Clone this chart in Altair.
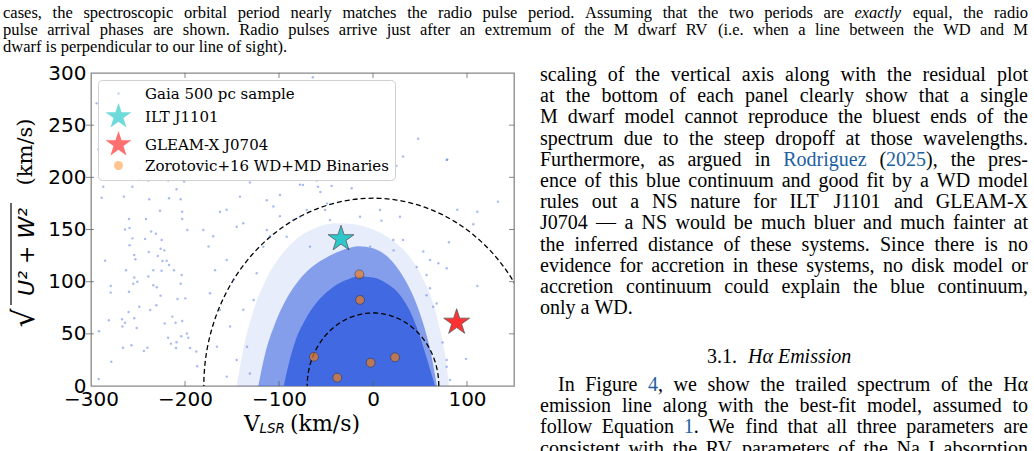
import altair as alt
import pandas as pd

# ---------------- data ----------------
series_names = ["Gaia 500 pc sample", "ILT J1101", "GLEAM-X J0704", "Zorotovic+16 WD+MD Binaries"]

# sparse Gaia stars (V_LSR, sqrt(U^2+W^2))
gaia_x = [-248.6, -239, -217.8, -201, -256, -209, -288.6, -265, -238, -217, -204.6, -226.6, -203,
          -259.6, -241.5, -203, -263.8, -259, -236, -231, -197.5, -256, -242.5, -224.8, -259, -225.9,
          -222, -238.6, -285, -254, -252.8, -229, -224, -219.5, -217, -262.8, -233.7, -225, -211.7,
          -254, -239, -203.5, -255, -250.7, -233.7, -230, -279, -279, -259.6, -226, -204.6, -208,
          -199.7, -248.6, -237, -230.5, -260, -254, -281, -267, -266.6, -263.8, -251.4, -221.6,
          -213.5, -210, -203, -291.5, -218, -215, -209, -204, -198, -196.5, -266, -257, -240, -243.7,
          -209.6, -194.7, -188, -278.4, -187, -291.8,
          -294, -292, -282.6, -287, -256.7, -248,
          -131, -99, -60, -58.5, -77.7, -155.7, -162.8, -180.5, -145, -138, -170, -175, -155.6, -168,
          -173.4, -148.6, -162.8, -152, -166, -145, -155.6, -131, -134, -138, -127, -123.7, -116.7,
          -109.6, -99, -84.8, -70.5, -49, -45.7, -113, -141.5,
          -74.5, -44, -22.7, -56, -106, -77.7, -51, -13.8, 7.4, 28.7, -113, -91.8, -67, -3, 21.6, -64,
          133, 89.7, 111, 9, 106.7, 32, 80.8, 22, 53.5, 60.6, 46.5, 78.4, 69.5, 57, 60.6, 111, 57,
          67.8, 64, 74, 78.4, 99, 78.4, 82, 78.4, 25, 48, 79, 32]
gaia_y = [198, 197, 197, 196, 191, 188.5, 180.5, 181.5, 179, 180, 179, 168, 167,
          160, 160, 160, 150, 151.5, 148, 146, 149.5, 141.5, 141, 140, 135, 131.6,
          130, 128.5, 120, 125.6, 121.5, 124.6, 119.8, 120, 116, 111, 111, 110.5, 111,
          104, 105, 106.4, 98, 100, 96.5, 94.6, 95.8, 89.5, 90.4, 86.6, 98, 83.4,
          84, 76, 72.9, 77.4, 71, 65, 63, 64, 57, 60.7, 55.6, 60,
          66.5, 60.7, 62.3, 52.4, 46.3, 40.6, 41.9, 47.6, 50.4, 46.3, 36.7, 39, 36.7, 33.6,
          36.4, 36.4, 33, 23.3, 19, 6.7,
          271, 227, 236.5, 191, 199.7, 208.6,
          195, 183, 197, 191, 193, 169, 167, 149.6, 152.7, 156, 143.5, 133.7, 120.8, 111,
          88.9, 101.6, 72.9, 57, 37.7, 25, 9, 12, 37.7, 73, 82.5, 108, 133.5,
          143.5, 162.7, 159, 168.7, 175, 159, 178, 181.5,
          192.7, 191.8, 189.5, 186, 172, 162.3, 168.7, 162.3, 168.7, 162.3, 149.6, 143, 133.6, 133.6, 140, 296,
          176.7, 169, 167, 158.5, 155, 140, 137.7, 130, 129, 120.8, 114, 112.8, 117.6, 106.4, 93.6, 95.8, 87,
          79, 76, 41.6, 25, 26, 18.5, 5.8, 216.7, 211, 237, 217, 220]

# dense part of the Gaia cloud: upper envelopes of three density levels
halo_x = [-145, -138, -128, -115, -98, -80, -60, -40, -20, 0, 20, 38, 52, 63, 71, 77, 81]
halo_y = [0, 35, 70, 100, 125, 142, 152, 156, 155, 150, 140, 125, 105, 82, 55, 28, 0]
fringe_x = [-122, -115, -105, -93, -80, -65, -48, -30, -15, 0, 14, 26, 37, 47, 55, 62, 68]
fringe_y = [0, 30, 58, 82, 100, 114, 124, 131, 134, 132, 125, 113, 97, 77, 55, 30, 0]
core_x = [-95, -90, -83, -73, -60, -45, -30, -15, 0, 15, 28, 38, 47, 55, 61, 66]
core_y = [0, 20, 42, 62, 80, 93, 101, 105, 104, 98, 88, 74, 55, 33, 15, 0]

ilt_x, ilt_y = [-34], [141]
gleam_x, gleam_y = [89], [61]
zoro_x = [-14.5, -13.8, -62.8, -38, -2.5, 23.4]
zoro_y = [107, 82.5, 28, 8, 22.3, 27.5]

circle_radii = [70, 180]
x_ticks = [-300, -200, -100, 0, 100]
y_ticks = [0, 50, 100, 150, 200, 250, 300]

# page text ({..} = link colour, _.._ = italic)
caption_lines = [
    "cases, the spectroscopic orbital period nearly matches the radio pulse period. Assuming that the two periods are _exactly_ equal, the radio",
    "pulse arrival phases are shown. Radio pulses arrive just after an extremum of the M dwarf RV (i.e. when a line between the WD and M",
    "dwarf is perpendicular to our line of sight).",
]
body_lines = [
    "scaling of the vertical axis along with the residual plot",
    "at the bottom of each panel clearly show that a single",
    "M dwarf model cannot reproduce the bluest ends of the",
    "spectrum due to the steep dropoff at those wavelengths.",
    "Furthermore, as argued in {Rodriguez} ({2025}), the pres-",
    "ence of this blue continuum and good fit by a WD model",
    "rules out a NS nature for ILT J1101 and GLEAM-X",
    "J0704 \u2014 a NS would be much bluer and much fainter at",
    "the inferred distance of these systems. Since there is no",
    "evidence for accretion in these systems, no disk model or",
    "accretion continuum could explain the blue continuum,",
    "only a WD.",
]
section_number = "3.1."
section_title = "H\u03b1 Emission"
body2_lines = [
    "In Figure {4}, we show the trailed spectrum of the H\u03b1",
    "emission line along with the best-fit model, assumed to",
    "follow Equation {1}. We find that all three parameters are",
    "consistent with the RV parameters of the Na I absorption",
]

# ---------------- layout ----------------
PL, PT, W, H = 91, 73, 423, 313
XMIN, XMAX, YMIN, YMAX = -300, 150, 0, 300
STAR = ("M0,-1L0.2245,-0.309L0.951,-0.309L0.363,0.118L0.588,0.809L0,0.382"
        "L-0.588,0.809L-0.363,0.118L-0.951,-0.309L-0.2245,-0.309Z")

xscale = alt.Scale(domain=[XMIN, XMAX], nice=False, zero=False)
yscale = alt.Scale(domain=[YMIN, YMAX], nice=False, zero=False)
xaxis = alt.Axis(values=x_ticks, title=None, grid=False, ticks=False, domain=False,
                 labelFont="DejaVu Sans", labelFontSize=20, labelColor="black",
                 labelPadding=3, labelFlush=False, labelOverlap=False, labelBound=False)
yaxis = alt.Axis(values=y_ticks, title=None, grid=False, ticks=False, domain=False,
                 labelFont="DejaVu Sans", labelFontSize=20, labelColor="black",
                 labelPadding=5, labelFlush=False, labelOverlap=False, labelBound=False)


def X(f="x"):
    return alt.X(f + ":Q", scale=xscale, axis=xaxis)


def Y(f="y"):
    return alt.Y(f + ":Q", scale=yscale, axis=yaxis, stack=None)


def area(xs, ys, op):
    df = pd.DataFrame({"x": xs, "y": ys})
    return alt.Chart(df).mark_area(color="#4169e1", opacity=op, interpolate="monotone",
                                   clip=True).encode(x=X(), y=Y(), y2=alt.datum(0))


layers = [area(halo_x, halo_y, 0.12), area(fringe_x, fringe_y, 0.6), area(core_x, core_y, 1.0)]

# dashed reference circles
circ = alt.Chart(pd.DataFrame({"r": circle_radii})).transform_calculate(
    deg="sequence(0, 181, 2)"
).transform_flatten(["deg"]).transform_calculate(
    x="datum.r * cos(datum.deg * PI / 180)", y="datum.r * sin(datum.deg * PI / 180)"
).mark_line(color="black", strokeDash=[5, 3], strokeWidth=1.3, clip=True).encode(
    x=X(), y=Y(), detail="r:N", order="deg:Q")
layers.append(circ)

# scatter points
rows = []
for xv, yv in zip(gaia_x, gaia_y):
    rows.append({"x": xv, "y": yv, "series": series_names[0], "ord": 0})
for xv, yv in zip(zoro_x, zoro_y):
    rows.append({"x": xv, "y": yv, "series": series_names[3], "ord": 1})
for xv, yv in zip(ilt_x, ilt_y):
    rows.append({"x": xv, "y": yv, "series": series_names[1], "ord": 2})
for xv, yv in zip(gleam_x, gleam_y):
    rows.append({"x": xv, "y": yv, "series": series_names[2], "ord": 2})
pts_df = pd.DataFrame(rows)


def dscale(rng):
    return alt.Scale(type="ordinal", domain=series_names, range=rng)


nolegtitle = alt.Legend(title=None)
pts = alt.Chart(pts_df).mark_point(filled=True, stroke="#333333", clip=True).encode(
    x=X(), y=Y(),
    fill=alt.Fill("series:N", scale=alt.Scale(domain=series_names,
                  range=["#4169e1", "#00bfbf", "#ff0000", "#ff7f0e"]), legend=nolegtitle),
    shape=alt.Shape("series:N", scale=alt.Scale(domain=series_names,
                    range=["circle", STAR, STAR, "circle"]), legend=nolegtitle),
    size=alt.Size("series:N", scale=dscale([6, 740, 740, 80]), legend=nolegtitle),
    opacity=alt.Opacity("series:N", scale=dscale([0.45, 0.8, 0.8, 0.65]), legend=nolegtitle),
    strokeWidth=alt.StrokeWidth("series:N", scale=dscale([0, 0.8, 0.8, 0.8]), legend=nolegtitle),
    order=alt.Order("ord:Q"),
)
layers.append(pts)

# inward tick marks on all four sides
xt = pd.DataFrame({"x": x_ticks[1:]})
yt = pd.DataFrame({"y": y_ticks[1:-1]})
tick_style = dict(color="#555555", thickness=1)
layers.append(alt.Chart(xt).mark_tick(size=5, **tick_style).encode(x=X(), y=alt.value(H - 2.5)))
layers.append(alt.Chart(xt).mark_tick(size=5, **tick_style).encode(x=X(), y=alt.value(2.5)))
layers.append(alt.Chart(yt).mark_tick(size=8, **tick_style).encode(y=Y(), x=alt.value(-1)))
layers.append(alt.Chart(yt).mark_tick(size=5, **tick_style).encode(y=Y(), x=alt.value(W - 2.5)))


def txt(s, px, py, size=20, font="Liberation Serif", color="black", style="normal",
        align="left", angle=0, baseline="middle"):
    kw = dict(fontSize=size, font=font, color=color, fontStyle=style, align=align,
              baseline=baseline)
    if angle:
        kw["angle"] = angle
    return alt.Chart(pd.DataFrame({"t": [s]})).mark_text(**kw).encode(
        text="t:N", x=alt.value(px - PL), y=alt.value(py - PT))


# axis titles
layers.append(txt("V", 244, 424, size=22, font="DejaVu Serif"))
layers.append(txt("LSR", 259.5, 429, size=13.5, font="DejaVu Sans", style="italic"))
layers.append(txt("(km/s)", 290, 424, size=22, font="DejaVu Serif"))
layers.append(txt("\u221a", 25, 318, size=30, font="DejaVu Sans", align="center", angle=270))
layers.append(txt("U\u00b2 + W\u00b2", 27, 252, size=22, font="DejaVu Sans", style="italic",
                  align="center", angle=270))
layers.append(txt("(km/s)", 26, 152, size=21, font="DejaVu Serif", align="center", angle=270))
layers.append(alt.Chart(pd.DataFrame({"t": [0]})).mark_rule(color="black", strokeWidth=1.2).encode(
    x=alt.value(11 - PL), y=alt.value(203 - PT), y2=alt.value(305 - PT)))

# ---------------- justified page text ----------------
TW = {' ': 250, '!': 333, '"': 408, '#': 500, '%': 833, '&': 778, "'": 333, '(': 333, ')': 333,
      '*': 500, '+': 564, ',': 250, '-': 333, '.': 250, '/': 278, ':': 278, ';': 278, '?': 444,
      'A': 722, 'B': 667, 'C': 667, 'D': 722, 'E': 611, 'F': 556, 'G': 722, 'H': 722, 'I': 333,
      'J': 389, 'K': 722, 'L': 611, 'M': 889, 'N': 722, 'O': 722, 'P': 556, 'Q': 722, 'R': 667,
      'S': 556, 'T': 611, 'U': 722, 'V': 722, 'W': 944, 'X': 722, 'Y': 722, 'Z': 611,
      'a': 444, 'b': 500, 'c': 444, 'd': 500, 'e': 444, 'f': 333, 'g': 500, 'h': 500, 'i': 278,
      'j': 278, 'k': 500, 'l': 278, 'm': 778, 'n': 500, 'o': 500, 'p': 500, 'q': 500, 'r': 333,
      's': 389, 't': 278, 'u': 500, 'v': 500, 'w': 722, 'x': 500, 'y': 500, 'z': 444,
      '\u2014': 1000, '\u03b1': 520}
for d in "0123456789":
    TW[d] = 500


def tw(s, size):
    return sum(TW.get(ch, 500) for ch in s) * size / 1000.0


def segments(word):
    segs, cur, col, ital = [], "", "black", False
    for ch in word:
        if ch in "{}_":
            if cur:
                segs.append((cur, col, ital))
            cur = ""
            if ch == "{":
                col = "#22609f"
            elif ch == "}":
                col = "black"
            else:
                ital = not ital
        else:
            cur += ch
    if cur:
        segs.append((cur, col, ital))
    return segs


def to_dx(px):
    return (px - PL) / W * (XMAX - XMIN) + XMIN


def to_dy(py):
    return (PT + H - py) / H * (YMAX - YMIN) + YMIN


text_rows = {}


def add_line(line, x0, x1, py, size, justify=True):
    words = [segments(w) for w in line.split(" ")]
    widths = [sum(tw(s[0], size) for s in w) for w in words]
    gap = tw(" ", size)
    if justify and len(words) > 1:
        gap = (x1 - x0 - sum(widths)) / (len(words) - 1)
    x = x0
    for w, wd in zip(words, widths):
        sx = x
        for t, col, ital in w:
            text_rows.setdefault((size, ital), []).append(
                {"t": t, "x": to_dx(sx), "y": to_dy(py), "c": col})
            sx += tw(t, size)
        x += wd + gap


CAP = 16.5
add_line(caption_lines[0], 3, 1028, 13, CAP)
add_line(caption_lines[1], 3, 1028, 30, CAP)
add_line(caption_lines[2], 3, 1028, 47, CAP, justify=False)
BODY = 20
for i, line in enumerate(body_lines):
    add_line(line, 540, 1028, 75 + 21.2 * i, BODY, justify=(i < len(body_lines) - 1))
add_line(body2_lines[0], 558, 1028, 385, BODY)
for i, line in enumerate(body2_lines[1:]):
    add_line(line, 540, 1028, 406 + 21.3 * i, BODY)

for (size, ital), rws in text_rows.items():
    layers.append(alt.Chart(pd.DataFrame(rws)).mark_text(
        font="Liberation Serif", fontSize=size, fontStyle="italic" if ital else "normal",
        align="left", baseline="middle").encode(
        x=X(), y=Y(), text="t:N", color=alt.Color("c:N", scale=None)))

layers.append(txt(section_number, 707, 356.5))
layers.append(txt(section_title, 748, 356.5, style="italic"))

chart = alt.layer(*layers).properties(
    width=W, height=H,
    autosize=alt.AutoSizeParams(type="none"),
    padding={"left": PL, "top": PT, "right": 1034 - PL - W, "bottom": 451 - PT - H},
    background="white",
).configure_view(stroke="#888888", strokeWidth=1.3).configure_legend(
    orient="top-left", offset=7, fillColor="rgba(255,255,255,0.85)", strokeColor="#d0d0d0",
    cornerRadius=4, padding=6, labelFont="DejaVu Serif", labelFontSize=15, labelColor="black",
    labelOffset=12, rowPadding=-3, symbolStrokeColor="#333333", labelLimit=400,
)

chart.save("out.html", embed_options={"renderer": "svg", "actions": False})
